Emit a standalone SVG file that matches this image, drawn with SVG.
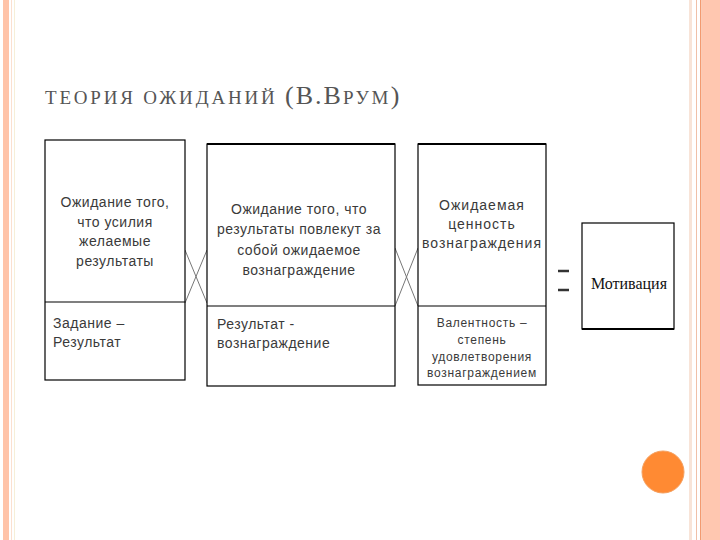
<svg xmlns="http://www.w3.org/2000/svg" width="720" height="540" viewBox="0 0 720 540">
<style>
.box{fill:#fff;stroke:#000;stroke-width:1.2}
.div{stroke:#000;stroke-width:1.2}
.t{font-family:"Liberation Sans",Arial,sans-serif;font-size:14px;fill:#3a3a3a;letter-spacing:0.5px}
.c{text-anchor:middle}
.s{font-size:12px;letter-spacing:0.7px}
.x{stroke:#777;stroke-width:1;fill:none}
</style>
<rect width="720" height="540" fill="#fff"/>
<g id="frame">
<rect x="3" y="0" width="6" height="540" fill="#ffc3a8"/>
<rect x="11" y="0" width="1" height="540" fill="#fbe0d0"/>
<rect x="14" y="0" width="1" height="540" fill="#f6efd8"/>
<rect x="689" y="0" width="3" height="540" fill="#f8e4d8"/>
<rect x="696" y="0" width="1" height="540" fill="#f0c0a8"/>
<rect x="700" y="0" width="1.5" height="540" fill="#f39a70"/>
<rect x="702" y="0" width="18" height="540" fill="#ffc7b0"/>
<circle cx="663" cy="472" r="21" fill="#ff8a33" stroke="#f5a060" stroke-width="1"/>
</g>
<text x="45" y="104" font-family="Liberation Serif,Times New Roman,serif" fill="#555" font-size="19" letter-spacing="2.8">ТЕОРИЯ ОЖИДАНИЙ <tspan font-size="26" letter-spacing="2">(В.В</tspan><tspan letter-spacing="2.5">РУМ</tspan><tspan font-size="26">)</tspan></text>
<g id="connectors">
<line class="x" x1="185" y1="250" x2="207" y2="303"/>
<line class="x" x1="185" y1="303" x2="207" y2="250"/>
<line class="x" x1="395" y1="248" x2="418" y2="306"/>
<line class="x" x1="395" y1="306" x2="418" y2="248"/>
</g>
<g id="box1">
<rect class="box" x="45" y="140" width="140" height="240"/>
<line class="div" x1="45" y1="302" x2="185" y2="302"/>
<text class="t c" x="115"><tspan x="115" y="207">Ожидание того,</tspan><tspan x="115" y="227">что усилия</tspan><tspan x="115" y="246">желаемые</tspan><tspan x="115" y="266">результаты</tspan></text>
<text class="t" x="53"><tspan x="53" y="328">Задание –</tspan><tspan x="53" y="347">Результат</tspan></text>
</g>
<g id="box2">
<rect class="box" x="207" y="144" width="188" height="242"/>
<line x1="207" y1="144" x2="395" y2="144" stroke="#000" stroke-width="2"/>
<line class="div" x1="207" y1="306" x2="395" y2="306"/>
<text class="t c"><tspan x="299" y="214">Ожидание того, что</tspan><tspan x="299" y="234">результаты повлекут за</tspan><tspan x="299" y="255">собой ожидаемое</tspan><tspan x="299" y="275">вознаграждение</tspan></text>
<text class="t"><tspan x="217" y="329">Результат -</tspan><tspan x="217" y="348">вознаграждение</tspan></text>
</g>
<g id="box3">
<rect class="box" x="418" y="144" width="128" height="241"/>
<line x1="418" y1="144" x2="546" y2="144" stroke="#000" stroke-width="2"/>
<line class="div" x1="418" y1="306" x2="546" y2="306"/>
<text class="t c" style="letter-spacing:1px"><tspan x="482" y="210">Ожидаемая</tspan><tspan x="482" y="229">ценность</tspan><tspan x="482" y="248">вознаграждения</tspan></text>
<text class="t c s"><tspan x="482" y="327">Валентность –</tspan><tspan x="482" y="344">степень</tspan><tspan x="482" y="361">удовлетворения</tspan><tspan x="482" y="377">вознаграждением</tspan></text>
</g>
<g id="equals">
<line x1="558" y1="271" x2="569" y2="271" stroke="#333" stroke-width="2.5"/>
<line x1="558" y1="290" x2="569" y2="290" stroke="#333" stroke-width="2.5"/>
</g>
<g id="motivation">
<rect class="box" x="582" y="223" width="92" height="106"/>
<line x1="582" y1="329" x2="674" y2="329" stroke="#000" stroke-width="2.2"/>
<text x="629" y="289" text-anchor="middle" font-family="Liberation Serif,Times New Roman,serif" font-size="16" fill="#111">Мотивация</text>
</g>
</svg>
